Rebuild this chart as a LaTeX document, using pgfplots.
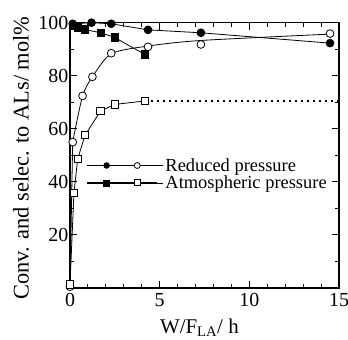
\documentclass[border=0pt]{standalone}
\usepackage{pgfplots}
\pgfplotsset{compat=1.18}
\usepackage{fontspec}
\setmainfont{Liberation Serif}
\begin{document}
\begin{tikzpicture}
\path[use as bounding box] (-70bp,-52bp) rectangle (278bp,288bp);
\begin{axis}[
  at={(0,0)}, anchor=south west,
  width=269bp, height=265.3bp, scale only axis,
  xmin=0, xmax=15, ymin=0, ymax=100,
  xtick={0,5,10,15}, minor xtick={1,2,3,4,6,7,8,9,11,12,13,14},
  ytick={20,40,60,80,100}, minor ytick={10,30,50,70,90},
  tick align=inside,
  major tick length=7bp, minor tick length=4.5bp,
  axis line style={line width=1.2bp},
  every tick/.style={line width=1bp, black},
  /pgf/number format/assume math mode=true,
  tick label style={font=\fontsize{20}{22}\selectfont},
  yticklabel style={inner xsep=1.5bp},
  xticklabel style={yshift=-1.5bp},
  xlabel={W/F\textsubscript{LA}/ h},
  ylabel={Conv. and selec. to ALs/ mol\%},
  xlabel style={font=\fontsize{21}{24}\selectfont, at={(axis description cs:0.481,-0.17)}, anchor=base},
  ylabel style={font=\fontsize{22.5}{24}\selectfont, at={(axis description cs:-0.182,0.49)}, anchor=center},
  legend style={at={(rel axis cs:0.062,0.497)}, anchor=north west, draw=none, fill=none,
    font=\fontsize{18.5}{20}\selectfont, row sep=-1bp, inner sep=0pt},
  legend cell align=left,
  clip=false,
]
% Reduced pressure: conversion (fitted curve + open circles)
\addplot[black, line width=0.8bp, forget plot] coordinates {(0,0.5) (0.15,55.0)};
\addplot[black, line width=0.8bp, smooth, tension=0.45, forget plot] coordinates {
 (0.15,55.0) (0.7,72.4) (1.25,79.6) (2.3,88.3) (4.35,91.2) (7.3,93.3) (14.5,95.7)};
\addplot[only marks, mark=*, mark size=3.9bp, mark options={fill=white, draw=black, line width=0.8bp}, forget plot] coordinates {
 (0,0.5) (0.15,55.0) (0.7,72.4) (1.25,79.6) (2.3,88.5) (4.35,90.9) (7.3,91.8) (14.5,95.9)};
% Reduced pressure: selectivity (filled circles)
\addplot[black, line width=0.8bp, mark=*, mark size=3.9bp, mark options={fill=black}, forget plot] coordinates {
 (0.15,99.6) (1.2,100.0) (2.3,99.6) (4.35,97.3) (7.3,96.2) (14.5,92.3)};
% Atmospheric pressure: conversion (open squares)
\addplot[black, line width=0.8bp, mark=square*, mark size=3.7bp, mark options={fill=white, line width=0.8bp}, forget plot] coordinates {
 (0,1.4) (0.22,35.9) (0.43,48.7) (0.84,57.6) (1.7,66.7) (2.5,69.2) (4.18,70.5)};
\addplot[black, line width=1.6bp, dash pattern=on 1.6bp off 4.4bp, forget plot] coordinates {
 (4.18,70.5) (15,70.5)};
% Atmospheric pressure: selectivity (filled squares)
\addplot[black, line width=0.8bp, mark=square*, mark size=3.7bp, mark options={fill=black}, forget plot] coordinates {
 (0.22,98.8) (0.43,98.3) (0.84,97.4) (1.72,96.2) (2.5,94.4) (4.18,88.0)};
\addlegendimage{legend image code/.code={
  \path (0bp,0bp) -- (76bp,0bp);
  \draw[black, line width=0.8bp] (0bp,0bp) -- (70bp,0bp);
  \fill[black] (19.3bp,0bp) circle (3bp);
  \draw[black, fill=white, line width=0.8bp] (50bp,0bp) circle (3bp);}}
\addlegendentry{Reduced pressure}
\addlegendimage{legend image code/.code={
  \path (0bp,0bp) -- (76bp,0bp);
  \draw[black, line width=0.8bp] (0bp,0bp) -- (70bp,0bp);
  \fill[black] (16.3bp,-3bp) rectangle (22.3bp,3bp);
  \draw[black, fill=white, line width=0.8bp] (47bp,-3bp) rectangle (53bp,3bp);}}
\addlegendentry{Atmospheric pressure}
\end{axis}
\end{tikzpicture}
\end{document}
